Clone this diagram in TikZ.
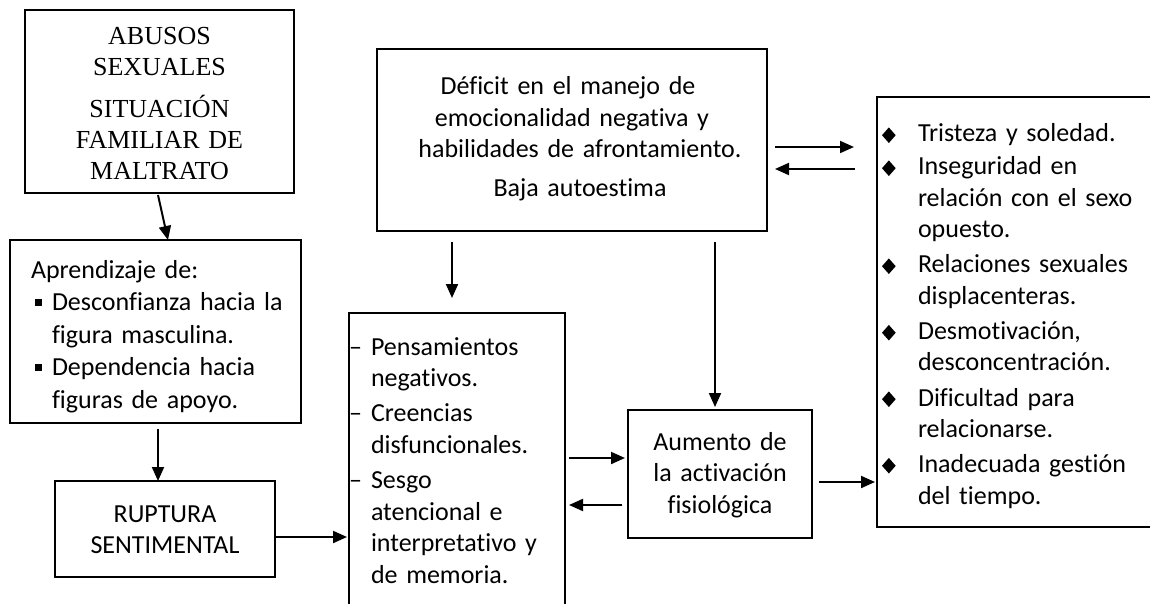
\documentclass[tikz,border=0pt]{standalone}
\usepackage{fontspec}
\setmainfont{Carlito}[Ligatures=NoCommon]
\newfontfamily\timesfont{Liberation Serif}
\usepackage{graphicx}
\usetikzlibrary{arrows.meta,calc}

% struts for the first and the last line of a box
\newcommand{\tp}[1]{\rule{0pt}{#1pt}}
\newcommand{\bt}[1]{\rule[-#1pt]{0pt}{#1pt}}
% bullets
\newcommand{\sqb}{\makebox[21pt][l]{\hspace{4pt}\rule[5pt]{7pt}{7pt}}}
\newcommand{\dsh}{\makebox[22pt][l]{–}}
\newcommand{\dmd}{\makebox[36pt][l]{\raisebox{-1pt}{\scalebox{0.88}[1.0]{\rotatebox{45}{\rule{11pt}{11pt}}}}}}

\begin{document}
\begin{tikzpicture}[x=1pt,y=-1pt,
    box/.style={draw,line width=2.2pt,inner ysep=0pt,inner xsep=0pt,outer sep=0pt,anchor=north west,align=center},
    arr/.style={line width=2pt,-{Triangle[length=14pt,width=12pt]}}]
  \useasboundingbox (0,0) rectangle (1150,604);
  \clip (0,0) rectangle (1150,604);

  % Left column
  \node[box,text width=269pt,font=\timesfont\fontsize{26}{31}\selectfont] (abusos) at (25,10)
    {\tp{35}ABUSOS\\SEXUALES\\[11pt]SITUACIÓN\\FAMILIAR DE\\MALTRATO\bt{13}};
  \node[box,text width=249pt,inner xsep=21pt,align=left,font=\fontsize{26}{32.5}\selectfont] (aprend) at (10,240)
    {\tp{38}Aprendizaje de:\\
     \sqb\mbox{Desconfianza hacia la}\\
     \hspace*{21pt}figura masculina.\\
     \sqb Dependencia hacia\\
     \hspace*{21pt}figuras de apoyo.\bt{15}};
  \node[box,text width=220pt,font=\fontsize{26}{31}\selectfont] (ruptura) at (55,481)
    {\tp{41}RUPTURA\\SENTIMENTAL\bt{24}};

  % Middle
  \node[box,text width=390pt,font=\fontsize{26}{31.5}\selectfont] (deficit) at (377,49)
    {\tp{46}\hspace*{-8pt}Déficit en el manejo de\\
     emocionalidad negativa y\\
     \hspace*{16pt}habilidades de afrontamiento.\\[7.5pt]
     \hspace*{16pt}Baja autoestima\bt{34}};
  \node[box,text width=216pt,align=left,font=\fontsize{26}{31.8}\selectfont] (pensam) at (349,313)
    {\tp{42}\dsh Pensamientos\\
     \hspace*{22pt}negativos.\\[3pt]
     \dsh Creencias\\
     \hspace*{22pt}disfuncionales.\\[3pt]
     \dsh Sesgo\\
     \hspace*{22pt}atencional e\\
     \hspace*{22pt}interpretativo y\\
     \hspace*{22pt}de memoria.\bt{28}};
  \node[box,text width=184pt,font=\fontsize{26}{31.5}\selectfont] (aumento) at (628,410)
    {\tp{40}Aumento de\\la activación\\fisiológica\bt{25}};

  % Right column
  \node[box,text width=290pt,inner xsep=5pt,align=left,font=\fontsize{26}{31.5}\selectfont] (efectos) at (877,97)
    {\tp{45}\dmd Tristeza y soledad.\\[1.5pt]
     \dmd Inseguridad en\\
     \hspace*{36pt}relación con el sexo\\
     \hspace*{36pt}opuesto.\\[3.5pt]
     \dmd Relaciones sexuales\\
     \hspace*{36pt}displacenteras.\\[3.5pt]
     \dmd Desmotivación,\\
     \hspace*{36pt}desconcentración.\\[3.5pt]
     \dmd Dificultad para\\
     \hspace*{36pt}relacionarse.\\[3.5pt]
     \dmd Inadecuada gestión\\
     \hspace*{36pt}del tiempo.\bt{23}};

  % Arrows
  \draw[arr] ($(abusos.south)+(-1.5,2)$) -- ($(aprend.north)+(12.5,0)$);
  \draw[arr] ($(aprend.south)+(2.5,6)$) -- ($(ruptura.north)+(-7,0)$);
  \draw[arr] ($(ruptura.east)+(0,8)$) coordinate (r1) -- ($(r1 -| pensam.west)+(-2,0)$);
  \draw[arr] ($(deficit.south west)+(75,11)$) coordinate (d1) -- ($(d1 |- pensam.north)+(0,-15)$);
  \draw[arr] ($(deficit.south west)+(338,11)$) coordinate (d2) -- ($(d2 |- aumento.north)+(0,-3)$);
  \draw[arr] ($(pensam.north east)+(4,145)$) coordinate (p1) -- ($(p1 -| aumento.west)+(-3,0)$);
  \draw[arr] ($(aumento.north west)+(-6,95)$) coordinate (a1) -- ($(a1 -| pensam.east)+(4,0)$);
  \draw[arr] ($(aumento.north east)+(7,72)$) coordinate (a2) -- ($(a2 -| efectos.west)+(-2,0)$);
  \draw[arr] ($(deficit.north east)+(8,98)$) coordinate (e1) -- ($(e1 -| efectos.west)+(-23,0)$);
  \draw[arr] ($(efectos.north west)+(-22,72)$) coordinate (e2) -- ($(e2 -| deficit.east)+(8,0)$);
\end{tikzpicture}
\end{document}
